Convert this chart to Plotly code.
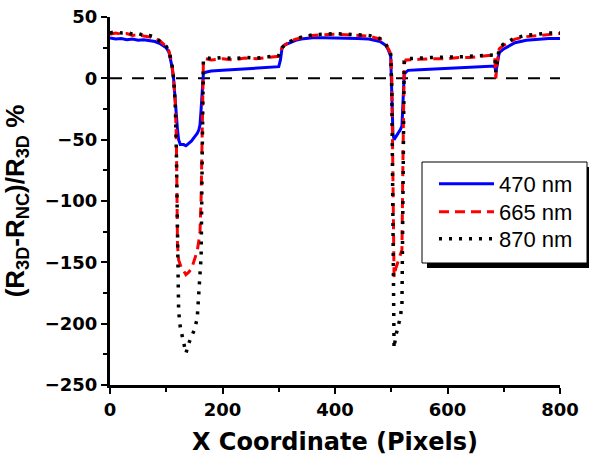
import plotly.graph_objects as go

# ---- data ----
x_px = [0, 10, 20, 30, 40, 50, 60, 70, 80, 90,
        100, 105, 110, 113, 116, 118, 120, 122, 125, 128,
        131, 135, 140, 145, 150, 155, 158, 160, 162, 164,
        166, 170, 180, 200, 220, 240, 260, 280, 300, 303,
        306, 310, 320, 330, 340, 360, 380, 400, 420, 440,
        460, 480, 490, 495, 499, 501, 503, 505, 508, 512,
        516, 519, 521, 523, 526, 530, 550, 570, 600, 620,
        640, 660, 680, 684, 686, 688, 690, 692, 700, 720,
        740, 760, 780, 800]

y_470 = [33, 32, 32.5, 31.5, 32, 31, 31.5, 31, 30, 28,
         25, 21, 10, 0, -20, -32, -42, -50, -54, -54,
         -54, -55, -53, -51, -48, -45, -42, -38, -25, -5,
         4, 5, 6, 6.5, 7, 7.5, 8, 8.5, 9.5, 15,
         25, 27, 29, 31, 32, 33, 33, 33, 33, 32.5,
         32, 30, 27, 23, 18, -20, -45, -50, -48, -45,
         -42, -39, -20, 3, 5, 6.5, 7, 7.5, 8, 8.5,
         9, 9.5, 10, 10, 5, 10, 18, 21, 24, 29,
         31, 32, 32.5, 32.5]

y_665 = [36, 37, 36, 36.5, 35, 35.5, 34.5, 34, 33, 30,
         26, 22, 12, 0, -20, -50, -136, -148, -152, -156,
         -157, -160, -158, -155, -148, -141, -132, -125, -97, -20,
         14, 16, 15, 16, 15, 16.5, 16, 17, 18, 22,
         25, 27, 30, 32, 33, 35, 35.5, 36, 35.5, 35,
         34.5, 32, 28, 24, 20, 0, -100, -162, -155, -150,
         -145, -140, -60, 12, 15, 15, 15.5, 16, 16, 17,
         17, 18, 19, 18, 0, 12, 20, 24, 27, 32,
         34, 35, 36, 36.5]

y_870 = [37, 38, 37, 37.5, 36, 36.5, 35, 35, 33.5, 30,
         26, 22, 12, 0, -20, -60, -150, -190, -203, -210,
         -216, -224, -216, -210, -205, -196, -172, -160, -145, -60,
         15, 17, 16, 17, 16, 17, 16.5, 17.5, 18.5, 22,
         25, 27, 30, 32, 33.5, 35.5, 36, 36.5, 36, 35.5,
         35, 32.5, 28, 24, 20, -10, -120, -220, -210, -203,
         -195, -185, -60, 14, 16, 16, 16.5, 17, 17, 17.5,
         18, 18.5, 19.5, 19, 5, 12, 21, 25, 28, 33,
         35, 36, 37, 37]

zero_x = [0, 800]
zero_y = [0, 0]

series_names = ["470 nm", "665 nm", "870 nm"]
x_ticks = [0, 200, 400, 600, 800]
y_ticks = [50, 0, -50, -100, -150, -200, -250]

W, H = 589, 459
L, R, T, B = 110, 29, 17, 74
pw, ph = W - L - R, H - T - B


def px_to_paper(xp, yp):
    return (xp - L) / pw, (H - B - yp) / ph


fig = go.Figure()
fig.add_trace(go.Scatter(x=zero_x, y=zero_y, mode="lines", showlegend=False,
                         line=dict(color="black", width=2, dash="12px,10px"),
                         hoverinfo="skip"))
fig.add_trace(go.Scatter(x=x_px, y=y_470, mode="lines", name=series_names[0],
                         legend="legend",
                         line=dict(color="#0000ff", width=3)))
fig.add_trace(go.Scatter(x=x_px, y=y_665, mode="lines", name=series_names[1],
                         legend="legend2",
                         line=dict(color="#ff0000", width=3, dash="10px,6px")))
fig.add_trace(go.Scatter(x=x_px, y=y_870, mode="lines", name=series_names[2],
                         legend="legend3",
                         line=dict(color="black", width=3.5, dash="3px,7px")))

# legend box with shadow
sx0, sy0 = px_to_paper(427, 268)
sx1, sy1 = px_to_paper(592, 167)
bx0, by0 = px_to_paper(422, 263)
bx1, by1 = px_to_paper(587, 162)
fig.add_shape(type="rect", xref="paper", yref="paper", x0=sx0, y0=sy0, x1=sx1, y1=sy1,
              fillcolor="black", line=dict(width=0), layer="above")
fig.add_shape(type="rect", xref="paper", yref="paper", x0=bx0, y0=by0, x1=bx1, y1=by1,
              fillcolor="white", line=dict(color="black", width=1), layer="above")

leg_font = dict(family="Liberation Sans, Arial, sans-serif", size=22, color="black")


def leg(ypix):
    lx, ly = px_to_paper(434, ypix)
    return dict(x=lx, y=ly, xanchor="left", yanchor="middle",
                bgcolor="rgba(0,0,0,0)", borderwidth=0, font=leg_font, itemwidth=55)


fig.update_layout(
    width=W, height=H,
    margin=dict(l=L, r=R, t=T, b=B, autoexpand=False),
    paper_bgcolor="white", plot_bgcolor="white",
    showlegend=True,
    legend=leg(184), legend2=leg(212), legend3=leg(239),
    xaxis=dict(range=[0, 800], tickvals=x_ticks, ticks="outside", ticklen=6, tickwidth=2,
               tickcolor="black", showline=True, linecolor="black", linewidth=3,
               showgrid=False, zeroline=False, mirror=False, automargin=False,
               minor=dict(dtick=100, ticks="outside", ticklen=4, tickwidth=2, tickcolor="black"),
               tickfont=dict(family="DejaVu Sans", size=18, color="black", weight="bold"),
               title=dict(text="<b>X Coordinate (Pixels)</b>",
                          font=dict(family="DejaVu Sans", size=24, color="black"))),
    yaxis=dict(range=[-250, 50], tickvals=y_ticks, ticks="outside", ticklen=6, tickwidth=2,
               tickcolor="black", showline=True, linecolor="black", linewidth=3,
               showgrid=False, zeroline=False, mirror=False, automargin=False,
               minor=dict(dtick=25, ticks="outside", ticklen=4, tickwidth=2, tickcolor="black"),
               tickfont=dict(family="DejaVu Sans", size=18, color="black", weight="bold"),
               title=dict(text="<b>(R<sub>3D</sub>-R<sub>NC</sub>)/R<sub>3D</sub> %</b>",
                          font=dict(family="Liberation Sans, Arial, sans-serif", size=26,
                                    color="black"))),
)

fig.write_html("out.html")
